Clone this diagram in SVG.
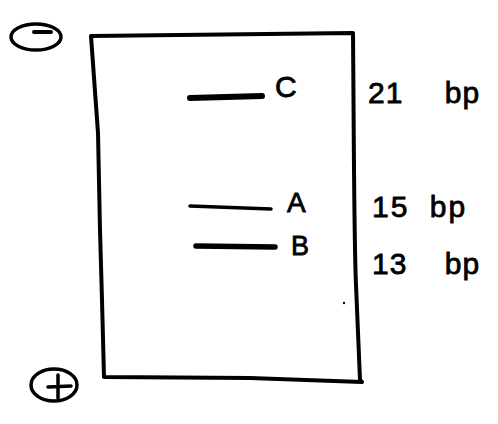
<svg xmlns="http://www.w3.org/2000/svg" width="498" height="424" viewBox="0 0 498 424">
<style>
.ink{fill:none;stroke:#000;stroke-linecap:round;stroke-linejoin:round}
.lbl{font-family:"Liberation Sans","DejaVu Sans",sans-serif;fill:#000;stroke:#000;stroke-width:0.8}
</style>
<rect width="498" height="424" fill="#fff"/>
<g id="gel">
<path class="ink" stroke-width="4" d="M91,36 L353,33 C354,150 354,240 356,285 L360,380 L362,382 L250,378 L104,377 L102,300 L100,230 L98,133 Z"/>
</g>
<g id="cathode">
<ellipse class="ink" stroke-width="3.5" cx="36" cy="37" rx="25" ry="13"/>
<path class="ink" stroke-width="4" d="M34,32 L51,32"/>
</g>
<g id="anode">
<ellipse class="ink" stroke-width="3.5" cx="54" cy="385" rx="23" ry="16"/>
<path class="ink" stroke-width="3.5" d="M48,387 L71,386 M58,375 L58,398"/>
</g>
<g id="band-C">
<path class="ink" stroke-width="6" d="M190,98 L262,96"/>
<text class="lbl" x="275" y="97" font-size="30">C</text>
</g>
<g id="band-A">
<path class="ink" stroke-width="3.5" d="M190,206 L271,209"/>
<text class="lbl" x="287" y="212" font-size="28">A</text>
</g>
<g id="band-B">
<path class="ink" stroke-width="5.5" d="M196,246 L275,247"/>
<text class="lbl" x="291" y="255" font-size="27">B</text>
</g>
<g id="size-labels">
<text class="lbl" x="368" y="103" font-size="30" word-spacing="32" letter-spacing="1">21 bp</text>
<text class="lbl" x="372" y="217" font-size="30" word-spacing="10" letter-spacing="2">15 bp</text>
<text class="lbl" x="372" y="274" font-size="30" word-spacing="28" letter-spacing="1">13 bp</text>
</g>
<circle cx="344" cy="303" r="1.2" fill="#000"/>
</svg>
